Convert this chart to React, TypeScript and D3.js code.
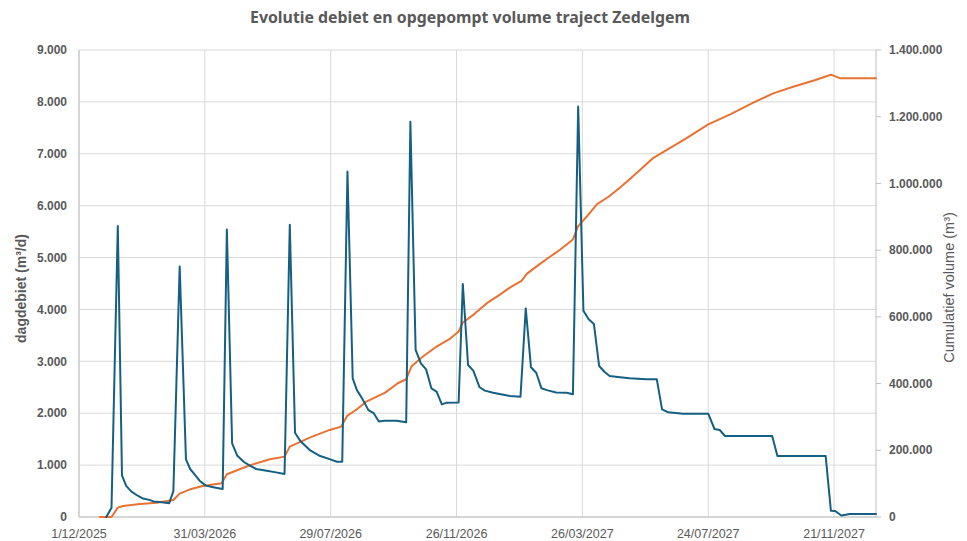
import React from "react";
import * as d3 from "d3";

const W = 967;
const H = 541;
const PLOT = { left: 79, right: 876, top: 50, bottom: 517 };

const TITLE = "Evolutie debiet en opgepompt volume traject Zedelgem";
const LEFT_LABEL = "dagdebiet (m³/d)";
const RIGHT_LABEL = "Cumulatief volume (m³)";

const AXIS_START = "2025-12-01";
const AXIS_END = "2027-12-31";
const TICK_STEP_DAYS = 120;
const TICK_COUNT = 7;

const leftTicks = [0, 1000, 2000, 3000, 4000, 5000, 6000, 7000, 8000, 9000];
const rightTicks = [0, 200000, 400000, 600000, 800000, 1000000, 1200000, 1400000];

const debietDates = [
  "2025-12-27", "2026-01-01", "2026-01-07", "2026-01-11", "2026-01-15", "2026-01-20",
  "2026-01-26", "2026-01-31", "2026-02-06", "2026-02-10", "2026-02-16", "2026-02-25",
  "2026-03-01", "2026-03-07", "2026-03-13", "2026-03-17", "2026-03-22", "2026-03-26",
  "2026-04-01", "2026-04-08", "2026-04-17", "2026-04-21", "2026-04-26", "2026-05-01",
  "2026-05-07", "2026-05-13", "2026-05-19", "2026-05-29", "2026-06-07", "2026-06-15",
  "2026-06-20", "2026-06-25", "2026-06-30", "2026-07-09", "2026-07-19", "2026-07-28",
  "2026-08-04", "2026-08-09", "2026-08-14", "2026-08-19", "2026-08-23", "2026-08-28",
  "2026-09-03", "2026-09-08", "2026-09-13", "2026-09-18", "2026-09-30", "2026-10-09",
  "2026-10-13", "2026-10-18", "2026-10-23", "2026-10-28", "2026-11-02", "2026-11-07",
  "2026-11-12", "2026-11-16", "2026-11-28", "2026-12-02", "2026-12-07", "2026-12-12",
  "2026-12-18", "2026-12-23", "2026-12-30", "2027-01-06", "2027-01-16", "2027-01-26",
  "2027-01-31", "2027-02-05", "2027-02-10", "2027-02-15", "2027-02-21", "2027-03-01",
  "2027-03-11", "2027-03-17", "2027-03-22", "2027-03-27", "2027-04-01", "2027-04-06",
  "2027-04-11", "2027-04-16", "2027-04-21", "2027-05-01", "2027-05-10", "2027-05-26",
  "2027-06-05", "2027-06-10", "2027-06-16", "2027-06-30", "2027-07-24", "2027-07-30",
  "2027-08-04", "2027-08-09", "2027-09-23", "2027-09-28", "2027-11-13", "2027-11-18",
  "2027-11-22", "2027-11-28", "2027-12-06", "2027-12-31",
];
const debietValues = [
  0, 180, 5610, 800, 600, 490,
  410, 355, 330, 300, 290, 265,
  500, 4830, 1110, 925, 800, 700,
  605, 575, 540, 5540, 1420, 1180,
  1065, 990, 925, 890, 860, 830,
  5630, 1625, 1465, 1290, 1175, 1115,
  1066, 1066, 6660, 2670, 2445, 2285,
  2060, 2000, 1840, 1855, 1855, 1825,
  7617, 3220, 2960, 2845, 2480, 2415,
  2170, 2200, 2205, 4490, 2930, 2820,
  2500, 2435, 2400, 2370, 2330, 2318,
  4020, 2885, 2780, 2480, 2440, 2400,
  2395, 2365, 7910, 3975, 3810, 3720,
  2910, 2800, 2717, 2692, 2672, 2655,
  2653, 2075, 2017, 1990, 1990, 1696,
  1676, 1561, 1561, 1175, 1175, 121,
  116, 30, 58, 58,
];

const volumeDates = [
  "2025-12-21", "2026-01-01", "2026-01-07", "2026-01-12", "2026-01-28", "2026-02-13",
  "2026-03-01", "2026-03-07", "2026-03-17", "2026-03-29", "2026-04-16", "2026-04-21",
  "2026-05-13", "2026-06-01", "2026-06-15", "2026-06-20", "2026-07-09", "2026-07-28",
  "2026-08-08", "2026-08-14", "2026-08-23", "2026-09-01", "2026-09-19", "2026-10-01",
  "2026-10-09", "2026-10-14", "2026-10-25", "2026-11-07", "2026-11-20", "2026-11-28",
  "2026-12-02", "2026-12-12", "2026-12-25", "2027-01-06", "2027-01-17", "2027-01-27",
  "2027-02-01", "2027-02-12", "2027-02-23", "2027-03-05", "2027-03-17", "2027-03-22",
  "2027-03-30", "2027-04-09", "2027-04-20", "2027-05-01", "2027-05-12", "2027-06-01",
  "2027-06-17", "2027-07-03", "2027-07-24", "2027-08-14", "2027-09-05", "2027-09-24",
  "2027-10-13", "2027-11-01", "2027-11-18", "2027-11-27", "2027-12-31",
];
const volumeValues = [
  0, 0, 28000, 33000, 39000, 43000,
  51000, 70000, 83000, 93000, 101000, 128000,
  155000, 173000, 181000, 211000, 238000, 261000,
  271000, 304000, 323000, 346000, 373000, 401000,
  413000, 451000, 481000, 511000, 535000, 556000,
  583000, 606000, 641000, 666000, 690000, 708000,
  729000, 755000, 780000, 802000, 832000, 872000,
  900000, 938000, 960000, 988000, 1018000, 1075000,
  1105000, 1135000, 1177000, 1207000, 1242000, 1270000,
  1290000, 1308000, 1326000, 1315000, 1315000,
];

const BLUE = "#156082";
const ORANGE = "#E97132";
const TEXT = "#595959";
const GRID = "#d9d9d9";
const AXIS = "#bfbfbf";

const parse = d3.utcParse("%Y-%m-%d");
const nl = d3.formatLocale({ decimal: ",", thousands: ".", grouping: [3], currency: ["€", ""] });
const fmtNum = nl.format(",d");
const fmtDate = d3.utcFormat("%-d/%m/%Y");

export default function App() {
  const start = parse(AXIS_START)!;
  const end = parse(AXIS_END)!;
  const x = d3.scaleUtc().domain([start, end]).range([PLOT.left, PLOT.right]);
  const yL = d3.scaleLinear().domain([0, 9000]).range([PLOT.bottom, PLOT.top]);
  const yR = d3.scaleLinear().domain([0, 1400000]).range([PLOT.bottom, PLOT.top]);

  const xTicks = d3.range(TICK_COUNT).map((i) => d3.utcDay.offset(start, i * TICK_STEP_DAYS));

  const debiet = debietDates.map((d, i) => ({ date: parse(d)!, v: debietValues[i] }));
  const volume = volumeDates.map((d, i) => ({ date: parse(d)!, v: volumeValues[i] }));

  const lineL = d3.line<{ date: Date; v: number }>().x((d) => x(d.date)).y((d) => yL(d.v));
  const lineR = d3.line<{ date: Date; v: number }>().x((d) => x(d.date)).y((d) => yR(d.v));

  const font = "'Liberation Sans', Arial, sans-serif";

  return (
    <svg
      width={W}
      height={H}
      viewBox={`0 0 ${W} ${H}`}
      style={{ position: "absolute", left: 0, top: 0, background: "#fff" }}
      fontFamily={font}
    >
      <rect x={0} y={0} width={W} height={H} fill="#fff" />
      <text
        x={470}
        y={23}
        textAnchor="middle"
        fontFamily="'Noto Sans', 'Open Sans', sans-serif"
        fontWeight={700}
        fontSize={16.5}
        fill={TEXT}
        textLength={440}
        lengthAdjust="spacingAndGlyphs"
      >
        {TITLE}
      </text>

      {/* horizontal gridlines */}
      {leftTicks.map((t) => (
        <line key={"h" + t} x1={PLOT.left} x2={PLOT.right} y1={yL(t)} y2={yL(t)} stroke={GRID} strokeWidth={1} />
      ))}
      {/* vertical gridlines */}
      {xTicks.map((t, i) => (
        <line key={"v" + i} x1={x(t)} x2={x(t)} y1={PLOT.top} y2={PLOT.bottom} stroke={GRID} strokeWidth={1} />
      ))}
      <line x1={PLOT.right} x2={PLOT.right} y1={PLOT.top} y2={PLOT.bottom} stroke={AXIS} strokeWidth={1} />
      <line x1={PLOT.left} x2={PLOT.left} y1={PLOT.top} y2={PLOT.bottom} stroke={AXIS} strokeWidth={1} />
      <line x1={PLOT.left} x2={PLOT.right} y1={PLOT.bottom} y2={PLOT.bottom} stroke={AXIS} strokeWidth={1} />

      {/* left ticks */}
      {leftTicks.map((t) => (
        <text key={"lt" + t} x={67} y={yL(t)} dy="0.35em" textAnchor="end" fontSize={12} fontWeight={700} fill={TEXT}>
          {fmtNum(t)}
        </text>
      ))}
      {/* right ticks */}
      {rightTicks.map((t) => (
        <g key={"rt" + t}>
          <line x1={PLOT.right} x2={PLOT.right + 5} y1={yR(t)} y2={yR(t)} stroke={AXIS} strokeWidth={1} />
          <text x={889} y={yR(t)} dy="0.35em" textAnchor="start" fontSize={12} fontWeight={700} fill={TEXT}>
            {fmtNum(t)}
          </text>
        </g>
      ))}
      {/* x ticks */}
      {xTicks.map((t, i) => (
        <text key={"xt" + i} x={x(t)} y={538} textAnchor="middle" fontSize={12.5} fill={TEXT}>
          {fmtDate(t)}
        </text>
      ))}

      {/* axis titles */}
      <text
        transform={`translate(26, ${(PLOT.top + PLOT.bottom) / 2 + 5}) rotate(-90)`}
        textAnchor="middle"
        fontSize={14}
        fontWeight={700}
        fill={TEXT}
      >
        {LEFT_LABEL}
      </text>
      <text
        transform={`translate(954, ${(PLOT.top + PLOT.bottom) / 2 + 4}) rotate(-90)`}
        textAnchor="middle"
        fontSize={14.5}
        fill={TEXT}
      >
        {RIGHT_LABEL}
      </text>

      {/* series */}
      <path d={lineR(volume) || ""} fill="none" stroke={ORANGE} strokeWidth={2} strokeLinejoin="round" strokeLinecap="round" />
      <path d={lineL(debiet) || ""} fill="none" stroke={BLUE} strokeWidth={2} strokeLinejoin="round" strokeLinecap="round" />
    </svg>
  );
}
